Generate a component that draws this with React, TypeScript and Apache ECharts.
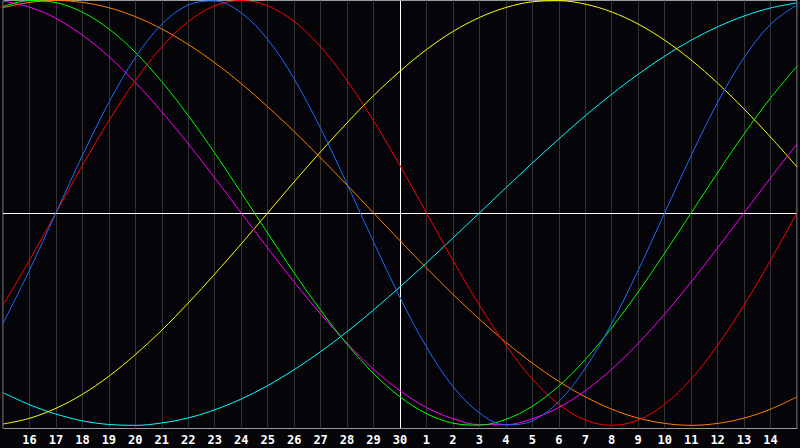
import React, { useEffect, useRef } from "react";
import * as echarts from "echarts";

// Day labels along the x axis (15th .. 15th of next month; ends unlabeled)
const dayLabels: string[] = [
  "", "16", "17", "18", "19", "20", "21", "22", "23", "24", "25", "26", "27", "28", "29", "30",
  "1", "2", "3", "4", "5", "6", "7", "8", "9", "10", "11", "12", "13", "14", "",
];

// Series values (percent) read per day
const red: number[] = [-43.4, -22.3, 0, 22.3, 43.4, 62.3, 78.2, 90.1, 97.5, 100, 97.5, 90.1, 78.2, 62.3, 43.4, 22.3, 0, -22.3, -43.4, -62.3, -78.2, -90.1, -97.5, -100, -97.5, -90.1, -78.2, -62.3, -43.4, -22.3, 0];
const blue: number[] = [-52.0, -27.0, 0, 27.0, 52.0, 73.1, 88.8, 97.9, 99.8, 94.2, 81.7, 63.1, 39.8, 13.6, -13.6, -39.8, -63.1, -81.7, -94.2, -99.8, -97.9, -88.8, -73.1, -52.0, -27.0, 0, 27.0, 52.0, 73.1, 88.8, 97.9];
const green: number[] = [97.2, 99.9, 99.0, 94.5, 86.6, 75.6, 61.8, 45.8, 28.2, 9.5, -9.5, -28.2, -45.8, -61.8, -75.6, -86.6, -94.5, -99.0, -99.9, -97.2, -91.0, -81.5, -69.0, -54.1, -37.2, -18.9, 0, 18.9, 37.2, 54.1, 69.0];
const magenta: number[] = [99.7, 96.9, 91.6, 83.7, 73.6, 61.4, 47.6, 32.5, 16.5, 0, -16.5, -32.5, -47.6, -61.4, -73.6, -83.7, -91.6, -96.9, -99.7, -99.7, -96.9, -91.6, -83.7, -73.6, -61.4, -47.6, -32.5, -16.5, 0, 16.5, 32.5];
const orange: number[] = [96.6, 99.1, 100, 99.1, 96.6, 92.4, 86.6, 79.3, 70.7, 60.9, 50, 38.3, 25.9, 13.1, 0, -13.1, -25.9, -38.3, -50, -60.9, -70.7, -79.3, -86.6, -92.4, -96.6, -99.1, -100, -99.1, -96.6, -92.4, -86.6];
const yellow: number[] = [-99.4, -96.7, -92.0, -85.4, -76.9, -66.7, -55.2, -42.4, -28.8, -14.6, 0, 14.6, 28.8, 42.4, 55.2, 66.7, 76.9, 85.4, 92.0, 96.7, 99.4, 99.9, 98.3, 94.6, 88.9, 81.3, 72.0, 61.1, 48.9, 35.7, 21.7];
const cyan: number[] = [-84.6, -90.3, -94.7, -97.9, -99.6, -100, -98.9, -96.5, -92.7, -87.6, -81.3, -73.8, -65.3, -55.9, -45.7, -34.8, -23.5, -11.8, 0, 11.8, 23.5, 34.8, 45.7, 55.9, 65.3, 73.8, 81.3, 87.6, 92.7, 96.5, 98.9];

const todayLabel = "30";

const seriesDefs = [
  { name: "cyan", data: cyan, color: "#00ffff" },
  { name: "yellow", data: yellow, color: "#ffff00" },
  { name: "orange", data: orange, color: "#ff8000" },
  { name: "magenta", data: magenta, color: "#ff00ff" },
  { name: "green", data: green, color: "#00ff00" },
  { name: "red", data: red, color: "#ff0000" },
  { name: "blue", data: blue, color: "#1a6cff" },
];

export default function App() {
  const ref = useRef<HTMLDivElement>(null);

  useEffect(() => {
    if (!ref.current) return;
    const chart = echarts.init(ref.current, null, { renderer: "svg" });
    const series: any[] = seriesDefs.map((s, i) => ({
      name: s.name,
      type: "line",
      data: s.data,
      smooth: 0.35,
      showSymbol: false,
      symbol: "none",
      silent: true,
      lineStyle: { color: s.color, width: 1 },
      z: 3,
      ...(i === 0
        ? {
            markLine: {
              silent: true,
              symbol: "none",
              label: { show: false },
              lineStyle: { color: "#ffffff", width: 1, type: "solid" },
              data: [{ xAxis: todayLabel }, { yAxis: 0 }],
              z: 2,
            },
          }
        : {}),
    }));

    chart.setOption({
      animation: false,
      backgroundColor: "#050408",
      grid: {
        left: 0.5,
        right: 1.5,
        top: 0.5,
        bottom: 19.5,
        show: true,
        borderColor: "#9a9a9a",
        borderWidth: 1,
        backgroundColor: "transparent",
      },
      xAxis: {
        type: "category",
        data: dayLabels,
        boundaryGap: false,
        axisLine: { show: false },
        axisTick: { show: false },
        axisLabel: {
          interval: 0,
          color: "#ffffff",
          fontFamily: "DejaVu Sans Mono",
          fontWeight: "bold",
          fontSize: 12,
          margin: 5,
        },
        splitLine: { show: true, interval: 0, lineStyle: { color: "#333333", width: 1 } },
      },
      yAxis: {
        type: "value",
        min: -101.5,
        max: 100,
        axisLine: { show: false },
        axisTick: { show: false },
        axisLabel: { show: false },
        splitLine: { show: false },
      },
      series,
    });
    return () => chart.dispose();
  }, []);

  return (
    <div
      ref={ref}
      style={{ position: "fixed", left: 0, top: 0, width: 800, height: 448 }}
    />
  );
}
